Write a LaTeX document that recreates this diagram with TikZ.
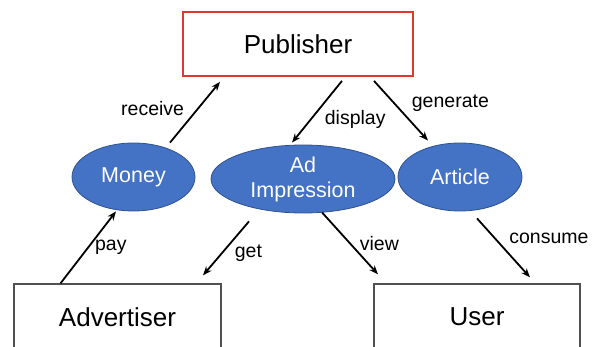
\documentclass[tikz,border=0pt]{standalone}
\usepackage{fontspec}
\setmainfont{Liberation Sans}
\usetikzlibrary{shapes.geometric, positioning, arrows.meta}
\definecolor{bubbleblue}{HTML}{4472C4}
\definecolor{bubbleline}{HTML}{2F528F}
\definecolor{pubred}{HTML}{E0382E}
\definecolor{boxgray}{HTML}{505050}
\tikzset{
    box/.style={draw=boxgray, line width=1.3pt, inner sep=0pt, font=\fontsize{26}{31}\selectfont},
    bubble/.style={ellipse, draw=bubbleline, line width=0.8pt, fill=bubbleblue, text=white, inner sep=0pt,
        minimum height=68pt, align=center, font=\fontsize{21.5}{25}\selectfont},
    arr/.style={-{Stealth[length=9pt, width=7pt]}, line width=1.8pt},
    lbl/.style={inner sep=0pt, font=\fontsize{19.5}{23}\selectfont},
}

\begin{document}
\begin{tikzpicture}[x=1pt, y=-1pt]
            \useasboundingbox (0,0) rectangle (598,347);
            \clip (0,0) rectangle (598,347);
            \node[box, draw=pubred, line width=1.8pt, minimum width=230pt, minimum height=64pt] (pub) at (298,44) {Publisher};
            \node[bubble, minimum width=123pt] (money) at (133.5,177) {Money};
            \node[bubble, minimum width=184pt] (adimp) at (303,179) {Ad\\Impression};
            \node[bubble, minimum width=124pt] (article) at (460,177) {Article};
            \node[box, minimum width=207pt, minimum height=66pt] (adv) at (117.5,317) {Advertiser};
            \node[box, minimum width=206pt, minimum height=66pt] (user) at (477,317) {User};

            \draw[arr] ([xshift=36.5pt]money.north) -- ([xshift=-78pt, yshift=-5pt]pub.south)
                node[lbl, midway, left=10pt, yshift=4pt] {receive};
            \draw[arr] ([xshift=44pt, yshift=-4pt]pub.south) -- ([xshift=-11pt, yshift=2pt]adimp.north)
                node[lbl, midway, right=7pt, yshift=-7.5pt] {display};
            \draw[arr] ([xshift=76pt, yshift=-4pt]pub.south) -- ([xshift=-32pt, yshift=2pt]article.north)
                node[lbl, midway, right=10pt, yshift=8pt] {generate};
            \draw[arr] ([xshift=-57pt]adv.north) -- ([xshift=-17.5pt]money.south)
                node[lbl, midway, right=6pt] {pay};
            \draw[arr] ([xshift=-54pt, yshift=-8pt]adimp.south) -- ([xshift=85.5pt, yshift=8pt]adv.north)
                node[lbl, midway, right=8pt, yshift=-4.5pt] {get};
            \draw[arr] ([xshift=19pt, yshift=1pt]adimp.south) -- ([xshift=-99pt, yshift=9pt]user.north)
                node[lbl, midway, right=9pt] {view};
            \draw[arr] ([xshift=17pt, yshift=-7pt]article.south) -- ([xshift=53pt, yshift=6pt]user.north)
                node[lbl, midway, right=5pt, yshift=10pt] {consume};
        \end{tikzpicture}
\end{document}
